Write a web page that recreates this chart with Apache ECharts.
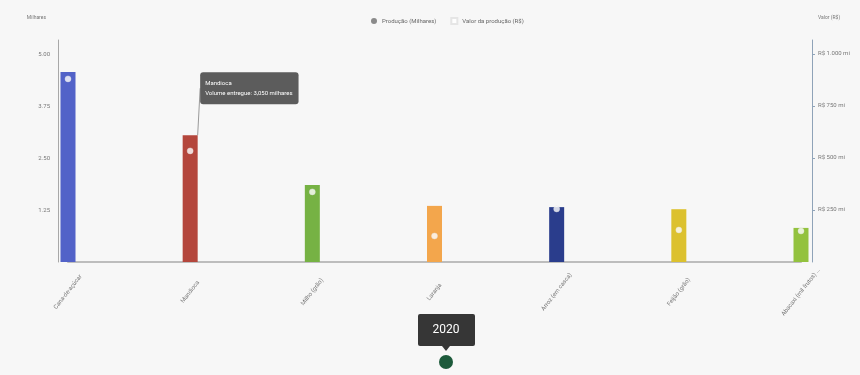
<!DOCTYPE html>
<html>
<head>
<meta charset="utf-8">
<script src="https://cdn.jsdelivr.net/npm/echarts@6/dist/echarts.min.js"></script>
<style>
html,body{margin:0;padding:0;background:#ffffff;}
#chart{width:860px;height:375px;}
</style>
</head>
<body>
<div id="chart"></div>
<script>
const categories = ['Cana-de-açúcar', 'Mandioca', 'Milho (grão)', 'Laranja', 'Arroz (em casca)', 'Feijão (grão)', 'Abacaxi (mil frutos) total'];
const producao = [4.57, 3.05, 1.85, 1.35, 1.32, 1.27, 0.82];
const valor = [880, 534, 337, 125, 255, 154, 149];
const barColors = ['#5262c8', '#b4463c', '#76b244', '#f3a64c', '#2a3d8c', '#dcc12e', '#93c23e'];
const leftTicks = [0, 1.25, 2.5, 3.75, 5];
const rightTicks = [0, 250, 500, 750, 1000];
const yearLabel = '2020';
const tipIndex = 1;

const chart = echarts.init(document.getElementById('chart'), null, {renderer: 'canvas'});

const barData = producao.map((v, i) => {
  const d = {value: v, itemStyle: {color: barColors[i]}};
  if (i === tipIndex) {
    d.label = {
      show: true,
      position: 'top',
      formatter: categories[i] + '\nVolume entregue: ' + v.toFixed(3).replace('.', ',') + ' milhares',
      backgroundColor: '#5c5c5c',
      borderRadius: 3,
      color: '#ffffff',
      fontSize: 6,
      lineHeight: 10,
      align: 'left',
      padding: [6, 6, 6, 5]
    };
    d.labelLine = {show: true, lineStyle: {color: '#9a9a9a', width: 1}};
  }
  return d;
});

const option = {
  backgroundColor: '#f7f7f7',
  animation: false,
  textStyle: {fontFamily: 'Roboto, sans-serif'},
  legend: {
    top: 12,
    left: 366,
    itemWidth: 6,
    itemHeight: 6,
    itemGap: 14,
    textStyle: {fontSize: 6, color: '#666'},
    data: [
      {name: 'Produção (Milhares)', icon: 'circle'},
      {name: 'Valor da produção (R$)', icon: 'rect'}
    ]
  },
  grid: {left: 68, right: 59, top: 40, bottom: 113},
  xAxis: {
    type: 'category',
    data: categories,
    boundaryGap: false,
    axisLine: {lineStyle: {color: '#bdbdbd', width: 2}},
    axisTick: {show: false},
    axisLabel: {
      rotate: 52,
      fontSize: 6,
      color: '#777',
      margin: 30,
      align: 'center',
      verticalAlign: 'middle',
      width: 62,
      overflow: 'truncate',
      ellipsis: '...'
    }
  },
  yAxis: [
    {
      type: 'value',
      name: 'Milhares',
      nameLocation: 'end',
      nameGap: 20,
      nameTextStyle: {fontSize: 5, color: '#777', align: 'right', padding: [0, 12, 0, 0]},
      min: leftTicks[0],
      max: 5.34,
      interval: leftTicks[1] - leftTicks[0],
      offset: 10,
      position: 'left',
      axisLine: {show: true, lineStyle: {color: '#a8a8a8'}},
      axisTick: {show: false},
      splitLine: {show: false},
      axisLabel: {
        fontSize: 6, color: '#777', margin: 8,
        showMinLabel: false, showMaxLabel: false,
        formatter: v => v.toFixed(2)
      }
    },
    {
      type: 'value',
      name: 'Valor (R$)',
      nameLocation: 'end',
      nameGap: 20,
      nameTextStyle: {fontSize: 5, color: '#777', align: 'left', padding: [0, 0, 0, 6]},
      min: rightTicks[0],
      max: 1067,
      interval: rightTicks[1] - rightTicks[0],
      offset: 11,
      position: 'right',
      axisLine: {show: true, lineStyle: {color: '#8fa3b8'}},
      axisTick: {show: true, length: 3, lineStyle: {color: '#8fa3b8'}},
      splitLine: {show: false},
      axisLabel: {
        fontSize: 6, color: '#777', margin: 6,
        showMinLabel: false, showMaxLabel: false,
        formatter: v => 'R$ ' + (v >= 1000 ? (v / 1000).toFixed(3) : v) + ' mi'
      }
    }
  ],
  series: [
    {
      name: 'Produção (Milhares)',
      type: 'bar',
      yAxisIndex: 0,
      barWidth: 15,
      itemStyle: {color: '#8a8a8a'},
      data: barData,
      labelLayout: {dx: 10, dy: -26},
      z: 2
    },
    {
      name: 'Valor da produção (R$)',
      type: 'scatter',
      yAxisIndex: 1,
      symbol: 'circle',
      symbolSize: 6,
      itemStyle: {color: '#ffffff', borderColor: '#e0e0e0', borderWidth: 0.5},
      data: valor,
      z: 3
    }
  ],
  graphic: [
    {
      type: 'rect',
      left: 418, top: 314,
      shape: {width: 57, height: 32, r: 2},
      style: {fill: '#363636'}
    },
    {
      type: 'polygon',
      shape: {points: [[442, 346], [450, 346], [446, 351]]},
      style: {fill: '#363636'}
    },
    {
      type: 'text',
      x: 446,
      y: 330,
      style: {text: yearLabel, fill: '#ffffff', fontSize: 12, fontFamily: 'Roboto, sans-serif', align: 'center', verticalAlign: 'middle'}
    },
    {
      type: 'circle',
      shape: {cx: 446, cy: 362, r: 7},
      style: {fill: '#1d5a3b'}
    }
  ]
};
chart.setOption(option);
</script>
</body>
</html>
